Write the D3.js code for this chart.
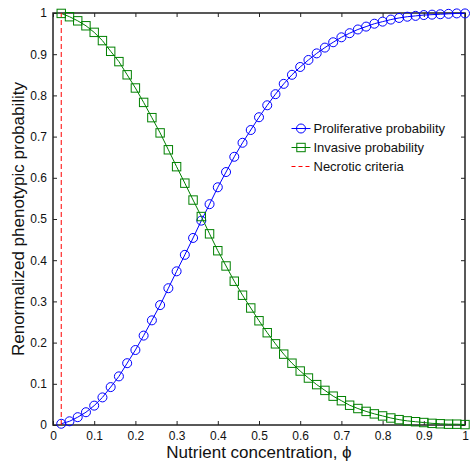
<!DOCTYPE html>
<html>
<head>
<meta charset="utf-8">
<script src="https://cdnjs.cloudflare.com/ajax/libs/d3/7.8.5/d3.min.js"></script>
<style>
  body { margin: 0; background: #fff; }
  text { font-family: "Liberation Sans", Arial, sans-serif; fill: #111; }
</style>
</head>
<body>
<div id="chart"></div>
<script>
// nutrient concentration samples
var phi = [0.02,0.04,0.06,0.08,0.10,0.12,0.14,0.16,0.18,0.20,
           0.22,0.24,0.26,0.28,0.30,0.32,0.34,0.36,0.38,0.40,
           0.42,0.44,0.46,0.48,0.50,0.52,0.54,0.56,0.58,0.60,
           0.62,0.64,0.66,0.68,0.70,0.72,0.74,0.76,0.78,0.80,
           0.82,0.84,0.86,0.88,0.90,0.92,0.94,0.96,0.98,1.00];

var proliferative = [0.003,0.009,0.019,0.031,0.047,0.067,0.092,0.118,0.150,0.182,
                     0.217,0.254,0.291,0.332,0.373,0.413,0.454,0.496,0.536,0.577,
                     0.614,0.651,0.685,0.716,0.747,0.776,0.803,0.828,0.850,0.869,
                     0.886,0.902,0.916,0.929,0.941,0.951,0.960,0.967,0.974,0.979,
                     0.984,0.988,0.991,0.993,0.995,0.996,0.997,0.998,0.999,0.999];

var invasive = [0.999,0.991,0.981,0.969,0.953,0.933,0.907,0.882,0.850,0.818,
                0.783,0.746,0.709,0.668,0.627,0.587,0.546,0.506,0.464,0.423,
                0.386,0.349,0.315,0.284,0.253,0.224,0.197,0.172,0.150,0.131,
                0.114,0.098,0.084,0.070,0.059,0.048,0.040,0.033,0.027,0.022,
                0.017,0.013,0.010,0.008,0.006,0.004,0.003,0.002,0.002,0.001];

var necroticPhi = 0.02;

var xTicks = [0,0.1,0.2,0.3,0.4,0.5,0.6,0.7,0.8,0.9,1];
var yTicks = [0,0.1,0.2,0.3,0.4,0.5,0.6,0.7,0.8,0.9,1];

var legendLabels = ["Proliferative probability", "Invasive probability", "Necrotic criteria"];

var margin = {top: 13, right: 5, bottom: 39, left: 53},
    width = 470 - margin.left - margin.right,
    height = 464 - margin.top - margin.bottom;

var svg = d3.select("#chart")
  .append("svg")
    .attr("width", 470)
    .attr("height", 464)
  .append("g")
    .attr("transform", "translate(" + margin.left + "," + margin.top + ")");

var x = d3.scaleLinear().domain([0, 1]).range([0, width]);
var y = d3.scaleLinear().domain([0, 1]).range([height, 0]);

var fmt = function(d) { return d3.format("")(d); };

// axes, ticks inward on all four sides
svg.append("g")
    .attr("transform", "translate(0," + height + ")")
    .call(d3.axisBottom(x).tickValues(xTicks).tickFormat(fmt).tickSizeInner(-4).tickSizeOuter(0).tickPadding(6));
svg.append("g")
    .call(d3.axisTop(x).tickValues(xTicks).tickFormat("").tickSizeInner(-4).tickSizeOuter(0));
svg.append("g")
    .call(d3.axisLeft(y).tickValues(yTicks).tickFormat(fmt).tickSizeInner(-4).tickSizeOuter(0).tickPadding(6));
svg.append("g")
    .attr("transform", "translate(" + width + ",0)")
    .call(d3.axisRight(y).tickValues(yTicks).tickFormat("").tickSizeInner(-4).tickSizeOuter(0));

svg.selectAll(".domain").remove();
svg.selectAll(".tick line").attr("stroke", "#222");
svg.selectAll(".tick text").attr("font-size", "12px").attr("fill", "#111");

svg.append("rect")
    .attr("width", width)
    .attr("height", height)
    .attr("fill", "none")
    .attr("stroke", "#222")
    .attr("stroke-width", 1.5);

var line = d3.line()
    .x(function(d) { return x(d[0]); })
    .y(function(d) { return y(d[1]); });

var pData = phi.map(function(v, i) { return [v, proliferative[i]]; });
var iData = phi.map(function(v, i) { return [v, invasive[i]]; });

// proliferative: blue circles
svg.append("path")
    .datum(pData)
    .attr("d", line)
    .attr("fill", "none")
    .attr("stroke", "#0000ff")
    .attr("stroke-width", 1);
svg.append("g").selectAll("circle")
    .data(pData)
    .enter().append("circle")
    .attr("cx", function(d) { return x(d[0]); })
    .attr("cy", function(d) { return y(d[1]); })
    .attr("r", 4.5)
    .attr("fill", "none")
    .attr("stroke", "#0000ff")
    .attr("stroke-width", 1);

// invasive: green squares
svg.append("path")
    .datum(iData)
    .attr("d", line)
    .attr("fill", "none")
    .attr("stroke", "#008000")
    .attr("stroke-width", 1);
svg.append("g").selectAll("rect")
    .data(iData)
    .enter().append("rect")
    .attr("x", function(d) { return x(d[0]) - 4.2; })
    .attr("y", function(d) { return y(d[1]) - 4.2; })
    .attr("width", 8.4)
    .attr("height", 8.4)
    .attr("fill", "none")
    .attr("stroke", "#008000")
    .attr("stroke-width", 1);

// necrotic criteria
svg.append("line")
    .attr("x1", x(necroticPhi)).attr("x2", x(necroticPhi))
    .attr("y1", y(0)).attr("y2", y(1))
    .attr("stroke", "#ff0000")
    .attr("stroke-width", 1)
    .attr("stroke-dasharray", "5,3");

// axis labels
svg.append("text")
    .attr("x", width / 2)
    .attr("y", height + 33)
    .attr("text-anchor", "middle")
    .attr("font-size", "17px")
    .text("Nutrient concentration, \u03d5");

svg.append("text")
    .attr("transform", "rotate(-90)")
    .attr("x", -height / 2)
    .attr("y", -29)
    .attr("text-anchor", "middle")
    .attr("font-size", "17px")
    .text("Renormalized phenotypic probability");

// legend (no box)
var lg = svg.append("g").attr("transform", "translate(" + (291.5 - margin.left) + "," + (128.5 - margin.top) + ")");
var colors = ["#0000ff", "#008000", "#ff0000"];
legendLabels.forEach(function(lab, i) {
    var row = lg.append("g").attr("transform", "translate(0," + (i * 19) + ")");
    row.append("line")
        .attr("x1", 0).attr("x2", 19)
        .attr("stroke", colors[i])
        .attr("stroke-width", 1)
        .attr("stroke-dasharray", i == 2 ? "4,3" : null);
    if (i == 0) {
        row.append("circle").attr("cx", 9.5).attr("r", 4.5)
            .attr("fill", "none").attr("stroke", colors[i]);
    } else if (i == 1) {
        row.append("rect").attr("x", 5.3).attr("y", -4.2).attr("width", 8.4).attr("height", 8.4)
            .attr("fill", "none").attr("stroke", colors[i]);
    }
    row.append("text")
        .attr("x", 22)
        .attr("y", 4.5)
        .attr("font-size", "13px")
        .text(lab);
});
</script>
</body>
</html>
